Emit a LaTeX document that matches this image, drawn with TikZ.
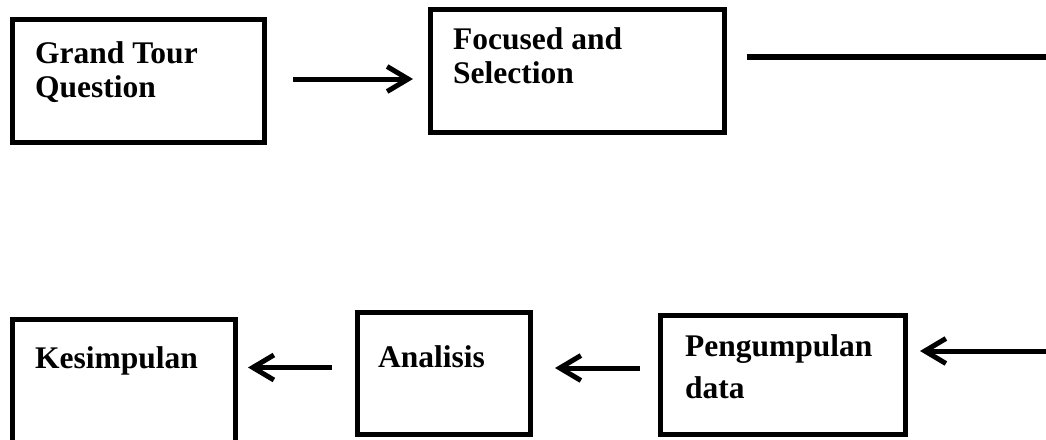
\documentclass[tikz,border=0pt]{standalone}
\usepackage{fontspec}
\setmainfont{Liberation Serif}
\usetikzlibrary{arrows.meta}
\begin{document}
\begin{tikzpicture}[x=1pt,y=-1pt,
    box/.style={draw,line width=5pt,inner sep=0pt},
    lbl/.style={anchor=base west,inner sep=0pt,align=left,font=\fontsize{31.5}{34}\selectfont\bfseries},
    flow/.style={line width=5pt,-{Straight Barb[length=21pt,width=25pt]}}]
  \useasboundingbox (0,0) rectangle (1046,439);
  \node[box,minimum width=252,minimum height=123] (gtq) at (138.5,81) {};
  \node[box,minimum width=294,minimum height=123] (fs) at (577.5,71) {};
  \node[box,minimum width=223,minimum height=124] (ks) at (124,381.5) {};
  \node[box,minimum width=173,minimum height=122] (an) at (444,373.5) {};
  \node[box,minimum width=245,minimum height=119] (pd) at (783,375) {};
  \node[lbl] (gtqtext) at (35,97) {Grand Tour\\Question};
  \node[lbl] (fstext) at (453,83) {Focused and\\Selection};
  \node[lbl] (kstext) at (35,368) {Kesimpulan};
  \node[lbl] (antext) at (378,367) {Analisis};
  \node[lbl,font=\fontsize{31.5}{42}\selectfont\bfseries] (pdtext) at (685,398) {Pengumpulan\\data};
  \coordinate (topend) at (1050,57);
  \coordinate (rightend) at (1050,351);
  \draw[flow,shorten <=26pt,shorten >=15pt] ([yshift=2pt]gtq.east) -- ([yshift=2pt]gtq.east -| fs.west);
  \draw[line width=5.5pt,shorten <=20pt] (fs.east |- topend) -- (topend);
  \draw[flow,shorten >=12pt] (rightend) -- (rightend -| pd.east);
  \draw[flow,shorten <=18pt,shorten >=22pt] ([yshift=7pt]pd.west) -- ([yshift=7pt]pd.west -| an.east);
  \draw[flow,shorten <=23pt,shorten >=10pt] ([yshift=6pt]an.west) -- ([yshift=6pt]an.west -| ks.east);
\end{tikzpicture}
\end{document}
